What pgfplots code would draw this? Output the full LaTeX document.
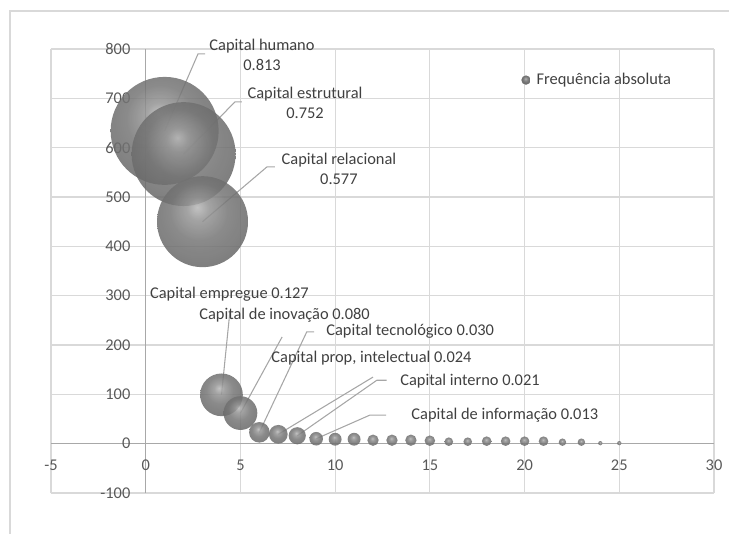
\documentclass[border=0pt]{standalone}
\usepackage{pgfplots}
\usepackage{pgfplotstable}
\pgfplotsset{compat=1.18}
\usepackage{fontspec}
\setmainfont{Carlito}

\definecolor{gridgray}{HTML}{D9D9D9}
\definecolor{axisgray}{HTML}{A8A8A8}
\definecolor{ticktext}{HTML}{595959}
\definecolor{labeltext}{HTML}{404040}
\definecolor{leadergray}{HTML}{A6A6A6}

% grey sphere used for the bubbles (edge of the circle at 50bp)
\pgfdeclareradialshading{sphere}{\pgfpoint{-3bp}{8bp}}{%
  color(0bp)=(black!28);
  color(6bp)=(black!42);
  color(16bp)=(black!54);
  color(30bp)=(black!60);
  color(40bp)=(black!68);
  color(46bp)=(black!76);
  color(50bp)=(black!82)}
\pgfdeclareplotmark{sphere}{%
  \pgfpathcircle{\pgfpointorigin}{\pgfplotmarksize}%
  \pgfshadepath{sphere}{0}%
  \pgfusepath{}}

% x = position, y = absolute frequency (bubble area follows y)
\pgfplotstableread{
x y
1 634
2 587
3 450
4 99
5 62
6 23
7 19
8 16
9 10
10 9
11 9
12 7
13 7
14 7
15 6
16 4
17 4
18 5
19 5
20 5
21 5
22 3
23 3
24 1
25 1
}\bubbles

\newcommand{\lblfont}{\fontsize{12.3}{15}\selectfont}

\begin{document}
\begin{tikzpicture}
\useasboundingbox (-38.25pt,-30pt) rectangle (508.5pt,369.75pt);
\draw[gridgray, line width=1pt] (-30.75pt,-40pt) -- (-30.75pt,361.5pt) -- (520pt,361.5pt);
\begin{axis}[
  scale only axis,
  width=497.25pt, height=333pt,
  xmin=-5, xmax=30, ymin=-100, ymax=800,
  xtick={-5,0,...,30}, ytick={-100,0,...,800},
  axis lines=middle,
  axis line style={-, draw=axisgray, line width=0.9pt},
  hide obscured x ticks=false, hide obscured y ticks=false,
  grid=major,
  major grid style={draw=gridgray, line width=0.8pt},
  major tick length=0pt,
  /pgf/number format/assume math mode=true,
  tick label style={font=\lblfont, text=ticktext},
  xticklabel style={anchor=center, yshift=-16.5pt},
  yticklabel style={anchor=east, xshift=-8pt},
  clip=false,
  legend style={at={(0.709,0.93)}, anchor=west, draw=none, fill=none,
    font=\lblfont, text=labeltext, inner sep=0pt, column sep=2.5pt},
  legend cell align=left,
  legend image code/.code={\pgfsetplotmarksize{3.5pt}\pgfuseplotmark{sphere}},
]
\addplot[
  scatter, only marks, mark=sphere,
  scatter/use mapped color={fill opacity=0.85, draw opacity=0.85},
  visualization depends on={40.5*sqrt(\thisrow{y}/634) \as \rad},
  scatter/@pre marker code/.append style={/tikz/mark size=\rad pt},
] table[x=x, y=y] {\bubbles};
\addlegendentry{Frequência absoluta}

% leader lines
\begin{scope}[leadergray, line width=0.8pt]
\draw (axis cs:3.13,790) -- (axis cs:2.76,790) -- (axis cs:1,634);
\draw (axis cs:5.08,692.7) -- (axis cs:4.71,692.7) -- (axis cs:2,587);
\draw (axis cs:6.82,561) -- (axis cs:6.40,561) -- (axis cs:3,450);
\draw (axis cs:4.45,270) -- (axis cs:4,99);
\draw (axis cs:7.2,216.3) -- (axis cs:5,62);
\draw (axis cs:8.89,226.5) -- (axis cs:8.50,226.5) -- (axis cs:6,23);
\draw (axis cs:12.0,135) -- (axis cs:7,19);
\draw (axis cs:12.72,128.5) -- (axis cs:12.2,128.5) -- (axis cs:8,16);
\draw (axis cs:12.69,58) -- (axis cs:11.84,58) -- (axis cs:9,10);
\end{scope}

% data labels
\begin{scope}[every node/.style={font=\lblfont, text=labeltext, align=center, inner sep=0pt}]
\node at (axis cs:6.14,788) {Capital humano\\0.813};
\node at (axis cs:8.41,690.6) {Capital estrutural\\0.752};
\node at (axis cs:10.2,558) {Capital relacional\\0.577};
\node at (axis cs:4.42,303.5) {Capital empregue 0.127};
\node at (axis cs:7.33,260.7) {Capital de inovação 0.080};
\node at (axis cs:13.96,227) {Capital tecnológico 0.030};
\node at (axis cs:11.92,173.7) {Capital prop, intelectual 0.024};
\node at (axis cs:17.12,125.9) {Capital interno 0.021};
\node at (axis cs:18.96,58) {Capital de informação 0.013};
\end{scope}
\end{axis}
\end{tikzpicture}
\end{document}
